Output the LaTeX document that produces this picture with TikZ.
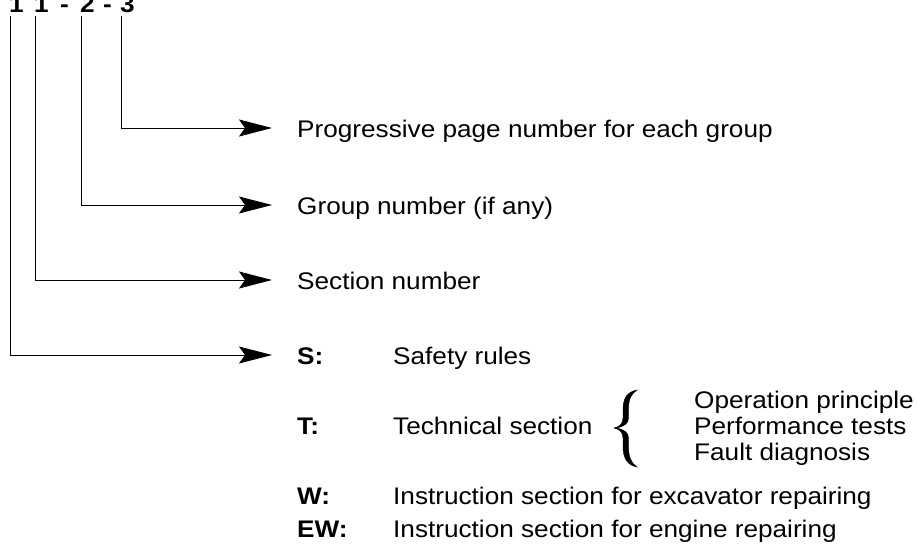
\documentclass[tikz,border=0pt]{standalone}
\usepackage{fontspec}
\setmainfont[FakeStretch=1.09]{Liberation Sans}
\usetikzlibrary{arrows.meta}
\tikzset{
  lbl/.style={anchor=base west, inner sep=0pt, font=\fontsize{24}{26}\selectfont},
  code/.style={anchor=base west, inner sep=0pt, font=\fontsize{24}{26}\selectfont\bfseries},
  digit/.style={anchor=base west, inner sep=0pt, font=\fontsize{24}{26}\selectfont\bfseries},
  conn/.style={line width=1pt, -{Stealth[length=33pt, width=17pt, inset=6pt]}},
  bracefill/.style={fill=black, draw=black, line width=0.4pt},
}
\begin{document}
\begin{tikzpicture}[x=1pt,y=-1pt]
\useasboundingbox (0,0) rectangle (918,549);
\clip (0,0) rectangle (918,549);
% top code
\node[digit] (d1) at (9,12) {1};
\node[digit] (d2) at (34,12) {1};
\node[digit] (h1) at (60,12) {-};
\node[digit] (d3) at (80,12) {2};
\node[digit] (h2) at (103,12) {-};
\node[digit] (d4) at (120,12) {3};
% line start and end points
\coordinate (s1) at (10,16);
\coordinate (s2) at (35,16);
\coordinate (s3) at (81,16);
\coordinate (s4) at (121,16);
\coordinate (e4) at (272,128);
\coordinate (e3) at (272,205);
\coordinate (e2) at (272,280);
\coordinate (e1) at (272,355);
% labels
\node[lbl] (page) at (297,137) {Progressive page number for each group};
\node[lbl] (group) at (297,214) {Group number (if any)};
\node[lbl] (sect) at (297,289) {Section number};
\node[code] (cs) at (297,364) {S:};
\node[lbl] (ts) at (393,364) {Safety rules};
\node[code] (ct) at (297,434) {T:};
\node[lbl] (tt) at (393,434) {Technical section};
\node[lbl] (op) at (694,408) {Operation principle};
\node[lbl] (pt) at (694,434) {Performance tests};
\node[lbl] (fd) at (694,460) {Fault diagnosis};
\node[code] (cw) at (297,504) {W:};
\node[lbl] (tw) at (393,504) {Instruction section for excavator repairing};
\node[code] (cew) at (297,537.5) {EW:};
\node[lbl] (tew) at (393,537.5) {Instruction section for engine repairing};
% brace
\path[bracefill]
  (637,390) .. controls (627,392) and (623,398) .. (623,410)
  -- (623,418) .. controls (623,424) and (619,427) .. (614,428)
  .. controls (619,429) and (623,432) .. (623,438)
  -- (623,446) .. controls (623,458) and (627,465) .. (637,467)
  .. controls (631,463) and (628.5,457) .. (628.5,446)
  -- (628.5,438) .. controls (628.5,433) and (625,429.5) .. (616,428)
  .. controls (625,426.5) and (628.5,423) .. (628.5,418)
  -- (628.5,410) .. controls (628.5,399) and (631,394) .. (637,390) -- cycle;
% connectors
\draw[conn] (s4) |- (e4);
\draw[conn] (s3) |- (e3);
\draw[conn] (s2) |- (e2);
\draw[conn] (s1) |- (e1);
\end{tikzpicture}
\end{document}
